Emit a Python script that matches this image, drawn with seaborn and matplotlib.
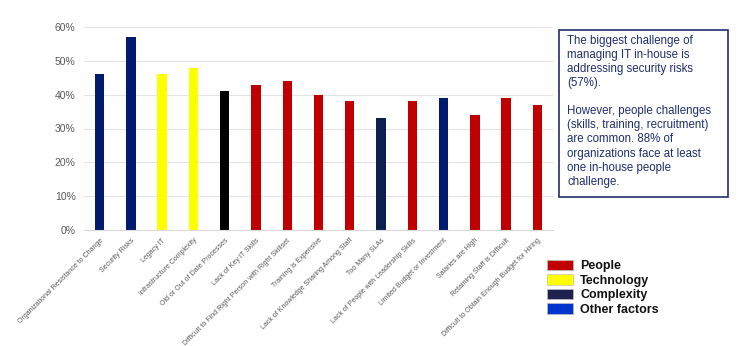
import matplotlib
matplotlib.use("Agg")
import matplotlib.pyplot as plt
from matplotlib.patches import Patch
import seaborn as sns
import pandas as pd

categories = [
    "Organizational Resistance to Change",
    "Security Risks",
    "Legacy IT",
    "Infrastructure Complexity",
    "Old or Out of Date Processes",
    "Lack of Key IT Skills",
    "Difficult to Find Right Person with Right Skillset",
    "Training is Expensive",
    "Lack of Knowledge Sharing Among Staff",
    "Too Many SLAs",
    "Lack of People with Leadership Skills",
    "Limited Budget or Investment",
    "Salaries are High",
    "Retaining Staff is Difficult",
    "Difficult to Obtain Enough Budget for Hiring",
]
values = [0.46, 0.57, 0.46, 0.48, 0.41, 0.43, 0.44, 0.40, 0.38, 0.33, 0.38, 0.39, 0.34, 0.39, 0.37]
bar_colors = [
    "#001A6E", "#001A6E", "#FFFF00", "#FFFF00", "#000000",
    "#C00000", "#C00000", "#C00000", "#C00000", "#0D1F4D",
    "#C00000", "#001A6E", "#C00000", "#C00000", "#C00000",
]
legend_labels = ["People", "Technology", "Complexity", "Other factors"]
legend_colors = ["#C00000", "#FFFF00", "#1F2050", "#0036CC"]
y_ticks = [0.0, 0.1, 0.2, 0.3, 0.4, 0.5, 0.6]
y_tick_labels = ["0%", "10%", "20%", "30%", "40%", "50%", "60%"]

note = ("The biggest challenge of\nmanaging IT in-house is\naddressing security risks\n(57%).\n\n"
        "However, people challenges\n(skills, training, recruitment)\nare common. 88% of\n"
        "organizations face at least\none in-house people\nchallenge.")

sns.set_theme(style="white")
plt.rcParams["font.family"] = ["Liberation Sans", "DejaVu Sans"]

W, H = 740, 346
fig = plt.figure(figsize=(W / 100, H / 100), dpi=100)
ax = fig.add_axes([84 / W, 1 - 230 / H, (553 - 84) / W, (230 - 27) / H])

df = pd.DataFrame({"challenge": categories, "share": values})
sns.barplot(data=df, x="challenge", y="share", hue="challenge",
            palette=bar_colors, width=0.3, legend=False, ax=ax,
            saturation=1, edgecolor="none")

ax.set_xlim(-0.5, len(categories) - 0.5)
ax.set_ylim(0, 0.6)
ax.set_yticks(y_ticks)
ax.set_yticklabels(y_tick_labels, fontsize=7.5, color="#595959")
ax.set_xticks(range(len(categories)))
ax.set_xticklabels(categories, rotation=45, ha="right", rotation_mode="anchor",
                   fontsize=5, color="#595959")
ax.tick_params(axis="both", length=0)
ax.tick_params(axis="x", pad=5)
ax.tick_params(axis="y", pad=6)
ax.set_xlabel("")
ax.set_ylabel("")
ax.yaxis.grid(True, color="#E3E3E3", linewidth=0.8)
ax.set_axisbelow(True)
for side in ["top", "right", "left"]:
    ax.spines[side].set_visible(False)
ax.spines["bottom"].set_color("#D9D9D9")
ax.spines["bottom"].set_linewidth(0.8)

# Explanatory note in a framed box
fig.text(567 / W, 1 - 35 / H, note, ha="left", va="top", fontsize=8.3,
         color="#1F2E6E", linespacing=1.23)
box = plt.Rectangle((559 / W, 1 - 197 / H), (728 - 559) / W, (197 - 30) / H,
                    transform=fig.transFigure, fill=False,
                    edgecolor="#1F2E6E", linewidth=1.2)
fig.add_artist(box)

handles = [Patch(facecolor=c, edgecolor="#BFBFBF", linewidth=0.5) for c in legend_colors]
leg = fig.legend(handles, legend_labels, loc="upper left",
                 bbox_to_anchor=(547 / W, 1 - 260 / H), frameon=False,
                 prop={"weight": "bold", "size": 9}, handlelength=2.1,
                 handleheight=0.9, handletextpad=0.55, labelspacing=0.15,
                 borderaxespad=0, borderpad=0)
for t in leg.get_texts():
    t.set_color("#111111")

fig.savefig("out.png", dpi=100)
